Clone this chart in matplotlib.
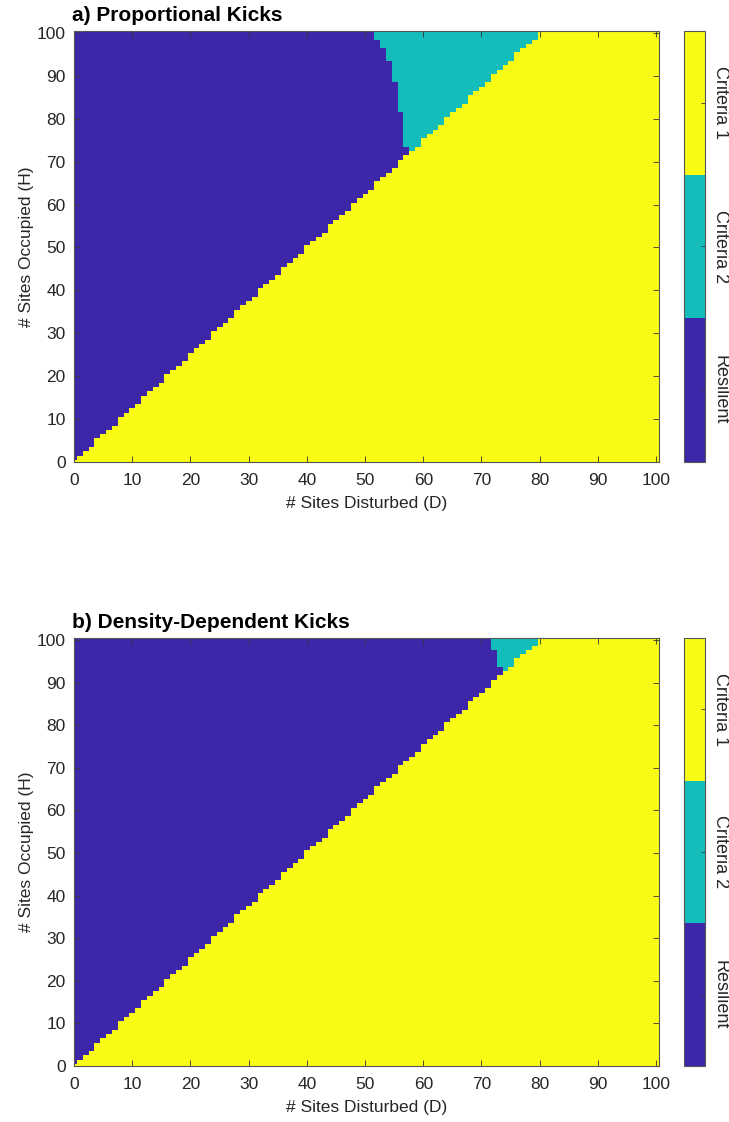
import numpy as np
import matplotlib
matplotlib.use("Agg")
import matplotlib.pyplot as plt
from matplotlib.colors import ListedColormap

plt.rcParams['font.family'] = ['Liberation Sans', 'DejaVu Sans']

# grid axes: sites disturbed (D, columns) and sites occupied (H, rows)
sites = np.arange(0, 101)

# highest H that still falls under Criteria 1, for each D = 0..100
crit1_top = [0, 1, 2, 3, 5, 6, 7, 8, 10, 11, 12, 13, 15, 16, 17, 18,
             20, 21, 22, 23, 25, 26, 27, 28, 30, 31, 32, 33, 35, 36, 37, 38,
             40, 41, 42, 43, 45, 46, 47, 48, 50, 51, 52, 53, 55, 56, 57, 58,
             60, 61, 62, 63, 65, 66, 67, 68, 70, 71, 72, 73, 75, 76, 77, 78,
             80, 81, 82, 83, 85, 86, 87, 88, 90, 91, 92, 93, 95, 96, 97, 98,
             100, 100, 100, 100, 100, 100, 100, 100, 100, 100, 100, 100,
             100, 100, 100, 100, 100, 100, 100, 100, 100]

# Criteria 2 zone: rows (H) and the first D of that zone in each row
crit2_rows_a = list(range(73, 101))
crit2_start_a = [58, 57, 57, 57, 57, 57, 57, 57, 57,
                 56, 56, 56, 56, 56, 56, 56,
                 55, 55, 55, 55, 55,
                 54, 54, 54,
                 53, 53,
                 52, 52]
crit2_rows_b = list(range(93, 101))
crit2_start_b = [74, 73, 73, 73, 73, 72, 72, 72]

class_labels = ['Resilient', 'Criteria 2', 'Criteria 1']
class_colors = ['#3e26a8', '#14bdb9', '#f9fb15']
titles = ['a) Proportional Kicks', 'b) Density-Dependent Kicks']


def build_grid(rows, starts):
    grid = np.zeros((len(sites), len(sites)), dtype=int)
    top = np.array(crit1_top)
    for h in sites:
        grid[h, top >= h] = 2
    for h, d0 in zip(rows, starts):
        row = grid[h]
        mask = (sites >= d0) & (row != 2)
        row[mask] = 1
    return grid


grids = [build_grid(crit2_rows_a, crit2_start_a),
         build_grid(crit2_rows_b, crit2_start_b)]

cmap = ListedColormap(class_colors)
fig = plt.figure(figsize=(7.29, 11.22), dpi=100)

ax_pos = [[0.1015, 0.5885, 0.8025, 0.3839],
          [0.1015, 0.0499, 0.8025, 0.3815]]
cb_pos = [[0.9383, 0.5885, 0.0288, 0.3839],
          [0.9383, 0.0499, 0.0288, 0.3815]]

edge = '#555555'
txt = '#262626'

for grid, title, apos, cpos in zip(grids, titles, ax_pos, cb_pos):
    ax = fig.add_axes(apos)
    im = ax.imshow(grid, origin='lower', cmap=cmap, vmin=-0.5, vmax=2.5,
                   extent=(-0.5, 100.5, -0.5, 100.5), aspect='auto',
                   interpolation='nearest')
    ax.set_xlim(0, 100.5)
    ax.set_ylim(0, 100.5)
    ax.set_xticks(np.arange(0, 101, 10))
    ax.set_yticks(np.arange(0, 101, 10))
    ax.tick_params(direction='in', length=4, width=0.6, color='#333333',
                   labelsize=12.5, labelcolor=txt, top=True, right=True)
    ax.tick_params(axis='x', pad=8)
    ax.tick_params(axis='y', pad=6)
    for s in ax.spines.values():
        s.set_color(edge)
        s.set_linewidth(0.8)
    ax.set_xlabel('# Sites Disturbed (D)', fontsize=12.5, color=txt, labelpad=6)
    ax.set_ylabel('# Sites Occupied (H)', fontsize=12.5, color=txt, labelpad=2)
    ax.set_title(title, loc='left', fontsize=15, fontweight='bold',
                 color='black', pad=7, x=-0.004)

    cax = fig.add_axes(cpos)
    cb = fig.colorbar(im, cax=cax, ticks=[0, 1, 2])
    cb.ax.set_yticklabels(class_labels, rotation=-90, va='center',
                          fontsize=13, color=txt)
    cb.ax.tick_params(direction='in', length=3, width=0.6, color='#333333',
                      pad=5)
    cb.outline.set_edgecolor(edge)
    cb.outline.set_linewidth(0.8)

fig.savefig('out.png', dpi=100)
